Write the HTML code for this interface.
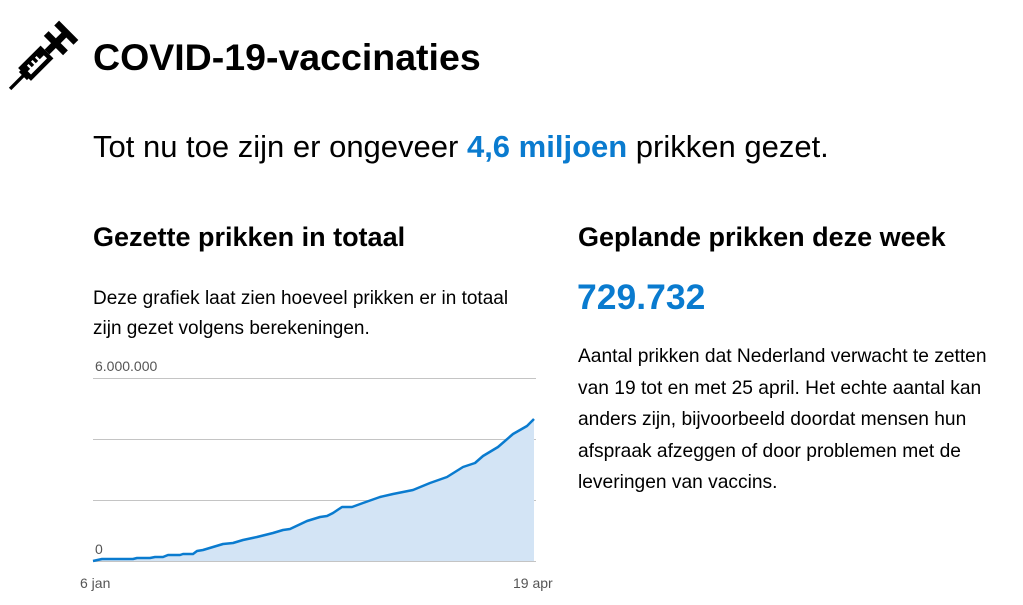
<!DOCTYPE html>
<html><head><meta charset="utf-8"><style>
body{margin:0;width:1023px;height:605px;background:#fff;font-family:"Liberation Sans",sans-serif;color:#000;position:relative;overflow:hidden}
.a{position:absolute;white-space:nowrap}
.b{font-weight:bold}
.blue{color:#0a7bcf}
</style></head><body>
<svg class="a" style="left:1px;top:16px" width="84" height="80" viewBox="0 0 74 70">
<g transform="rotate(-45 37 35)" fill="#000">
<rect x="-4" y="33.5" width="20" height="3"/>
<rect x="14" y="27" width="28" height="16"/>
<rect x="12" y="30" width="4" height="10"/>
<rect x="42" y="32" width="10" height="6"/>
<rect x="50" y="23" width="6" height="24"/>
<rect x="55" y="32" width="10" height="6"/>
<rect x="63" y="23" width="6" height="24"/>
</g>
<g transform="rotate(-45 37 35)" fill="#fff">
<rect x="18" y="35" width="20" height="4"/>
<rect x="21" y="31" width="2" height="5"/>
<rect x="26" y="31" width="2" height="5"/>
<rect x="31" y="31" width="2" height="5"/>
</g>
</svg>
<div class="a b" style="left:93px;top:36px;font-size:37.5px;">COVID-19-vaccinaties</div>
<div class="a" style="left:93px;top:129px;font-size:31px;">Tot nu toe zijn er ongeveer <span class="b blue">4,6 miljoen</span> prikken gezet.</div>
<div class="a b" style="left:93px;top:222px;font-size:27px;">Gezette prikken in totaal</div>
<div class="a" style="left:93px;top:284px;font-size:19px;line-height:30px;">Deze grafiek laat zien hoeveel prikken er in totaal<br>zijn gezet volgens berekeningen.</div>
<div class="a b" style="left:578px;top:222px;font-size:27px;">Geplande prikken deze week</div>
<div class="a b blue" style="left:577px;top:277px;font-size:35.5px;">729.732</div>
<div class="a" style="left:578px;top:341px;font-size:19.2px;line-height:31.5px;">Aantal prikken dat Nederland verwacht te zetten<br>van 19 tot en met 25 april. Het echte aantal kan<br>anders zijn, bijvoorbeeld doordat mensen hun<br>afspraak afzeggen of door problemen met de<br>leveringen van vaccins.</div>
<svg class="a" style="left:0;top:0" width="1023" height="605">
<g stroke="#c4c4c4" stroke-width="1">
<line x1="93" y1="378.5" x2="536" y2="378.5"/>
<line x1="93" y1="439.5" x2="536" y2="439.5"/>
<line x1="93" y1="500.5" x2="536" y2="500.5"/>
<line x1="93" y1="561.5" x2="536" y2="561.5"/>
</g>
<polygon fill="#d3e4f5" points="93,561 102,559 133,559 137,558 150,558 155,557 163,557 168,555 180,555 183,554 193,554 197,551 203,550 223,544 233,543 243,540 257,537 273,533 283,530 290,529 307,521 320,517 327,516 333,513 342,507 352,507 363,503 380,497 393,494 413,490 430,483 447,477 463,467 475,463 483,456 498,447 513,434 527,426 534,419 534,561"/>
<polyline fill="none" stroke="#0a7bcf" stroke-width="2.5" stroke-linejoin="round" points="93,561 102,559 133,559 137,558 150,558 155,557 163,557 168,555 180,555 183,554 193,554 197,551 203,550 223,544 233,543 243,540 257,537 273,533 283,530 290,529 307,521 320,517 327,516 333,513 342,507 352,507 363,503 380,497 393,494 413,490 430,483 447,477 463,467 475,463 483,456 498,447 513,434 527,426 534,419"/>
<g font-family="Liberation Sans,sans-serif" font-size="14" fill="#555">
<text x="95" y="371">6.000.000</text>
<text x="95" y="554">0</text>
<text x="80" y="588">6 jan</text>
<text x="513" y="588">19 apr</text>
</g>
</svg>
</body></html>
